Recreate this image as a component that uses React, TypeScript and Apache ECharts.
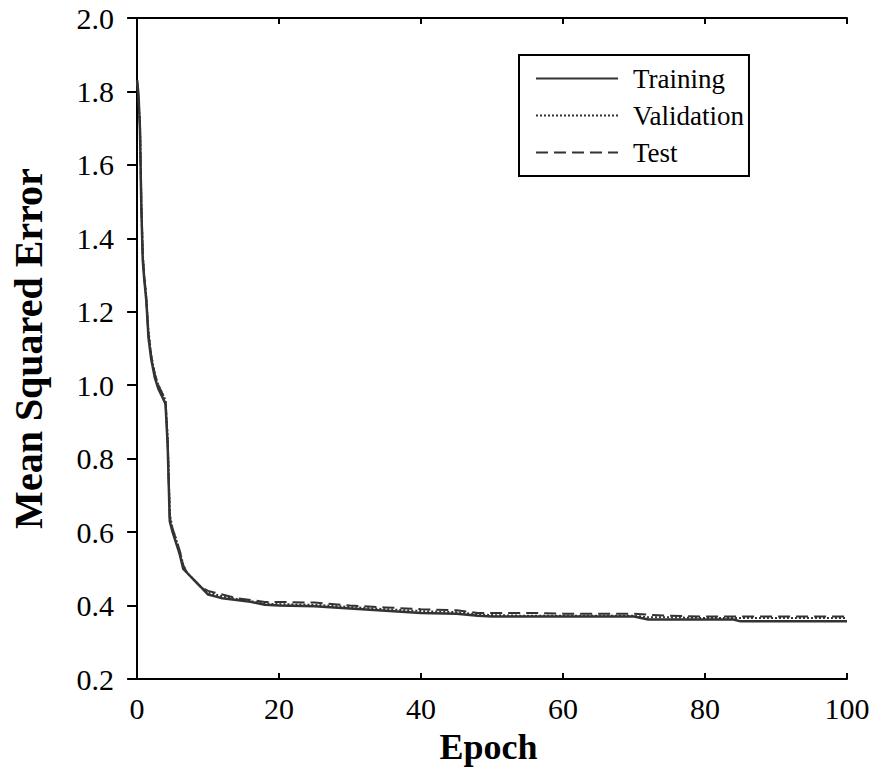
import React, { useEffect, useRef } from "react";
import * as echarts from "echarts";

const epochs = [0, 0.2, 0.4, 0.6, 0.8, 1, 1.3, 1.6, 2, 2.5, 3, 3.5, 4, 4.3, 4.6, 5, 5.5, 6, 6.5, 7, 8, 9, 10, 11, 12, 14, 16, 18, 20, 25, 30, 35, 40, 45, 48, 50, 55, 60, 65, 70, 72, 75, 80, 84, 85, 90, 95, 100];

const training = [1.83, 1.79, 1.70, 1.48, 1.34, 1.29, 1.23, 1.13, 1.07, 1.02, 0.99, 0.97, 0.95, 0.84, 0.63, 0.60, 0.57, 0.54, 0.50, 0.49, 0.47, 0.45, 0.43, 0.425, 0.42, 0.415, 0.41, 0.402, 0.40, 0.398, 0.392, 0.386, 0.38, 0.378, 0.372, 0.37, 0.37, 0.37, 0.37, 0.37, 0.362, 0.362, 0.362, 0.362, 0.357, 0.357, 0.357, 0.357];

const validation = [1.82, 1.77, 1.72, 1.50, 1.36, 1.30, 1.24, 1.15, 1.08, 1.03, 1.00, 0.98, 0.96, 0.86, 0.65, 0.61, 0.58, 0.55, 0.51, 0.49, 0.47, 0.45, 0.435, 0.43, 0.425, 0.418, 0.412, 0.405, 0.404, 0.402, 0.396, 0.39, 0.385, 0.382, 0.376, 0.374, 0.372, 0.372, 0.372, 0.372, 0.368, 0.368, 0.366, 0.366, 0.366, 0.366, 0.366, 0.366];

const test = [1.83, 1.78, 1.71, 1.49, 1.35, 1.30, 1.23, 1.14, 1.08, 1.03, 1.00, 0.98, 0.96, 0.85, 0.64, 0.61, 0.58, 0.55, 0.51, 0.49, 0.47, 0.45, 0.44, 0.435, 0.43, 0.42, 0.415, 0.41, 0.41, 0.408, 0.40, 0.395, 0.39, 0.387, 0.38, 0.38, 0.38, 0.378, 0.378, 0.378, 0.375, 0.372, 0.37, 0.37, 0.37, 0.37, 0.37, 0.37];

const seriesNames = ["Training", "Validation", "Test"];
const xTicks = [0, 20, 40, 60, 80, 100];

const FONT = '"Liberation Serif", "Times New Roman", serif';

function pairs(ys: number[]) {
  return epochs.map((x, i) => [x, ys[i]]);
}

export default function App() {
  const ref = useRef<HTMLDivElement>(null);
  useEffect(() => {
    if (!ref.current) return;
    const chart = echarts.init(ref.current, undefined, { renderer: "svg" });
    const lineColor = "#333";
    const axisLine = { show: true, lineStyle: { color: "#000", width: 2 } };
    chart.setOption({
      animation: false,
      backgroundColor: "#fff",
      grid: { left: 124, right: 37, top: 18, bottom: 93, containLabel: false },
      legend: {
        data: seriesNames,
        orient: "vertical",
        left: 519,
        top: 55,
        padding: [10, 5, 10, 16],
        borderColor: "#000",
        borderWidth: 2,
        itemWidth: 82,
        itemHeight: 14,
        itemGap: 10,
        itemStyle: { opacity: 0 },
        lineStyle: { color: "#333", width: 2 },
        textStyle: {
          fontFamily: FONT,
          fontSize: 27,
          color: "#000",
          lineHeight: 26,
          padding: [0, 0, 0, 10],
        },
      },
      xAxis: [
        {
          type: "value",
          min: -1,
          max: 100,
          position: "bottom",
          axisLine,
          axisTick: { show: true, inside: true, length: 6, customValues: xTicks, lineStyle: { color: "#000", width: 2 } },
          axisLabel: {
            fontFamily: FONT,
            fontSize: 30,
            color: "#000",
            margin: 14,
            customValues: xTicks,
          },
          splitLine: { show: false },
          name: "Epoch",
          nameLocation: "middle",
          nameGap: 50,
          nameTextStyle: { fontFamily: FONT, fontSize: 36, fontWeight: "bold", color: "#000" },
        },
        {
          type: "value",
          min: -1,
          max: 100,
          position: "top",
          axisLine,
          axisTick: { show: true, inside: true, length: 6, customValues: xTicks, lineStyle: { color: "#000", width: 2 } },
          axisLabel: { show: false },
          splitLine: { show: false },
        },
      ],
      yAxis: [
        {
          type: "value",
          min: 0.2,
          max: 2.0,
          interval: 0.2,
          position: "left",
          axisLine,
          axisTick: { show: true, inside: false, length: 10, lineStyle: { color: "#000", width: 2 } },
          axisLabel: {
            fontFamily: FONT,
            fontSize: 30,
            color: "#000",
            margin: 16,
            formatter: (v: number) => v.toFixed(1),
          },
          splitLine: { show: false },
          name: "Mean Squared Error",
          nameLocation: "middle",
          nameGap: 82,
          nameTextStyle: { fontFamily: FONT, fontSize: 40, fontWeight: "bold", color: "#000" },
        },
        {
          type: "value",
          min: 0.2,
          max: 2.0,
          interval: 0.2,
          position: "right",
          axisLine,
          axisTick: { show: true, inside: true, length: 6, lineStyle: { color: "#000", width: 2 } },
          axisLabel: { show: false },
          splitLine: { show: false },
        },
      ],
      series: [
        {
          name: "Training",
          type: "line",
          data: pairs(training),
          showSymbol: false,
          symbol: "none",
          lineStyle: { color: lineColor, width: 2.5, type: "solid" },
          itemStyle: { color: lineColor },
        },
        {
          name: "Validation",
          type: "line",
          data: pairs(validation),
          showSymbol: false,
          symbol: "none",
          lineStyle: { color: lineColor, width: 2, type: [2, 2] },
          itemStyle: { color: lineColor },
        },
        {
          name: "Test",
          type: "line",
          data: pairs(test),
          showSymbol: false,
          symbol: "none",
          lineStyle: { color: lineColor, width: 2, type: [12, 6] },
          itemStyle: { color: lineColor },
        },
      ],
    });
    return () => chart.dispose();
  }, []);
  return <div ref={ref} style={{ width: 884, height: 772, position: "absolute", left: 0, top: 0 }} />;
}
